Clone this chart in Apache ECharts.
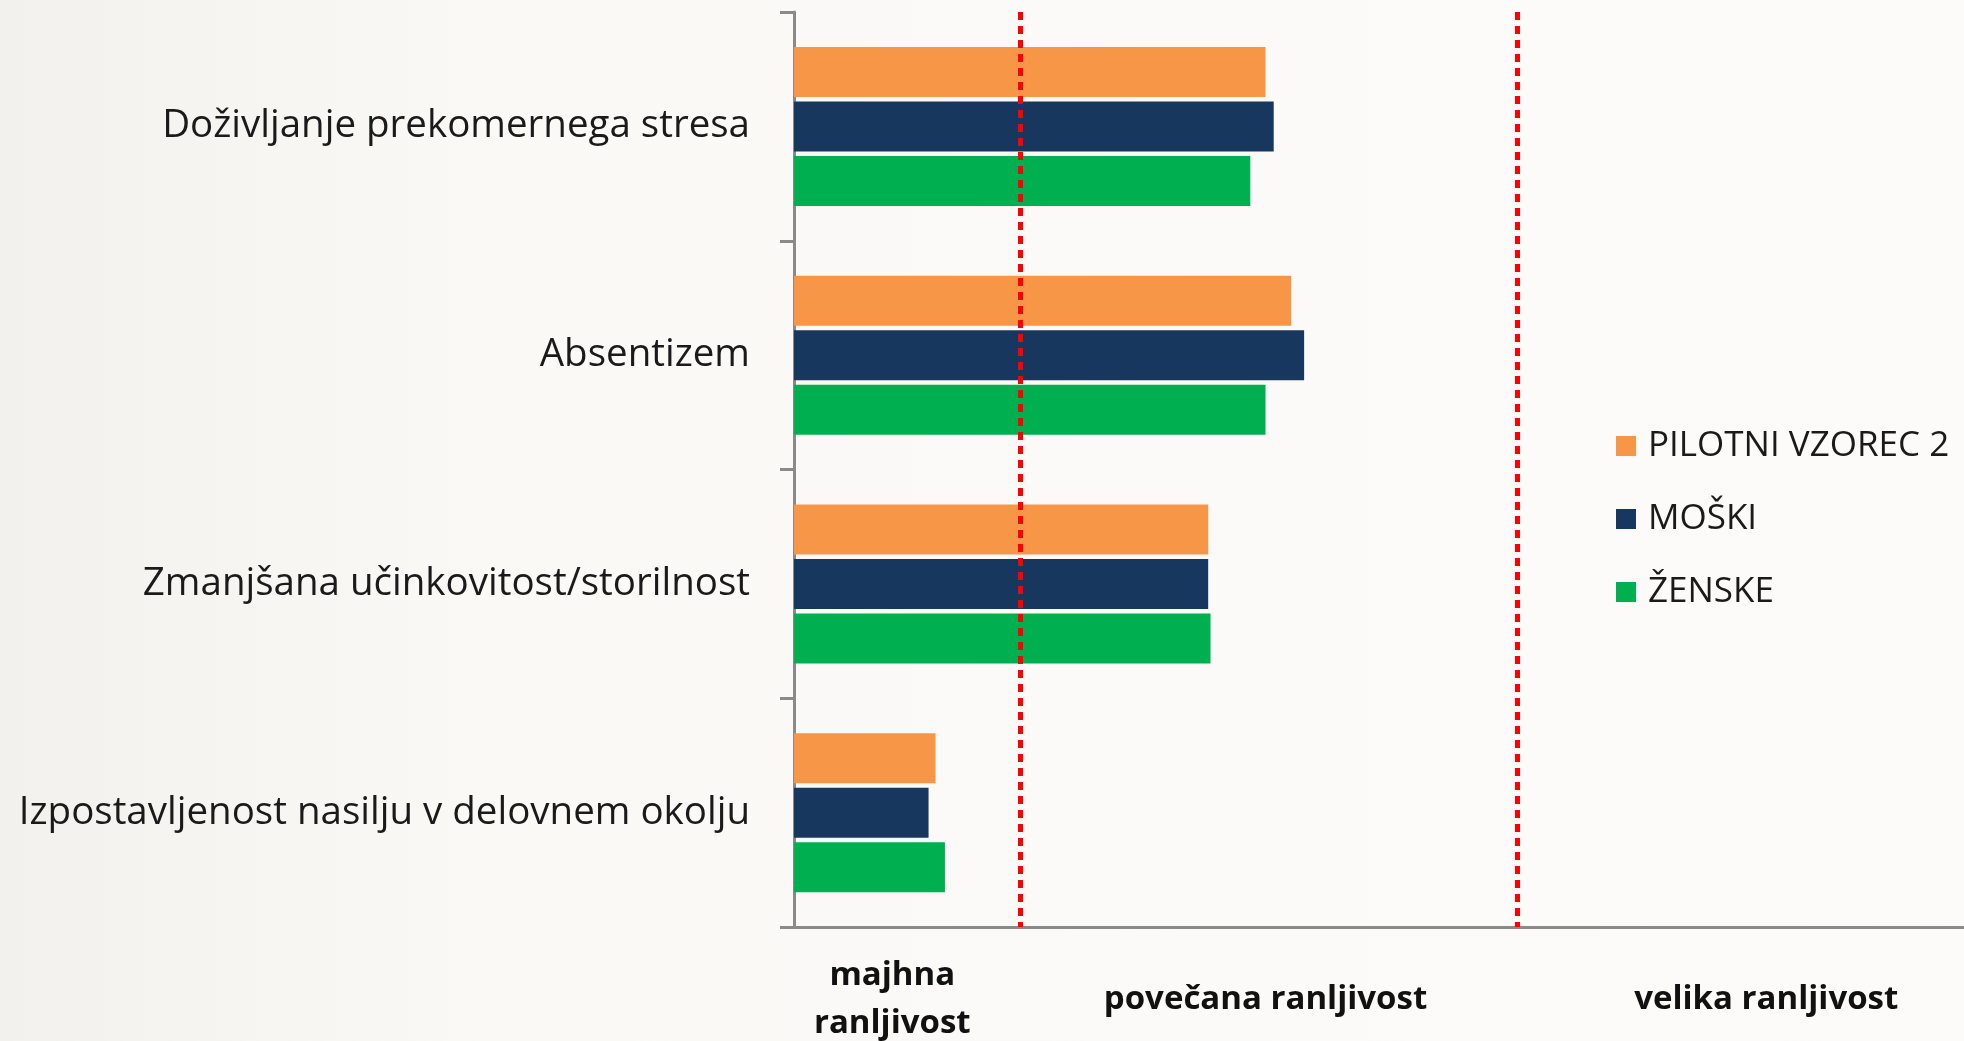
<!DOCTYPE html>
<html>
<head>
<meta charset="utf-8">
<script src="https://cdn.jsdelivr.net/npm/echarts@6/dist/echarts.min.js"></script>
<style>
    html, body { margin: 0; padding: 0; }
    #chart { width: 1964px; height: 1041px; }
</style>
</head>
<body>
<div id="chart"></div>
<script>
// kategorije (od zgoraj navzdol)
const categories = [
    'Doživljanje prekomernega stresa',
    'Absentizem',
    'Zmanjšana učinkovitost/storilnost',
    'Izpostavljenost nasilju v delovnem okolju'
];
const seriesNames = ['PILOTNI VZOREC 2', 'MOŠKI', 'ŽENSKE'];
// vrednosti na lestvici 0-100
const pilotni = [40.3, 42.5, 35.4, 12.1];
const moski = [41.0, 43.6, 35.4, 11.5];
const zenske = [39.0, 40.3, 35.6, 12.9];
// meje ranljivosti (rdeče črte)
const thresholds = [19.3, 61.8];
// oznake območij na osi x
const zoneLabels = ['majhna\nranljivost', 'povečana ranljivost', 'velika ranljivost'];
const zoneLabelAt = [8.4, 40.3, 83.1];

const colors = ['#f79646', '#17375e', '#00b050'];
const font = 'Open Sans';

const chart = echarts.init(document.getElementById('chart'));

const makeSeries = (name, data, i) => ({
    name: name,
    type: 'bar',
    data: data,
    barWidth: 50,
    barGap: '9%',
    itemStyle: { color: colors[i] },
    markLine: i === 0 ? {
        silent: true,
        symbol: 'none',
        label: { show: false },
        lineStyle: { color: '#ff0000', width: 5, type: [8, 6] },
        data: thresholds.map(t => ({ xAxis: t }))
    } : undefined,
    z: 2
});

const option = {
    backgroundColor: {
        type: 'linear', x: 0, y: 0, x2: 1, y2: 0,
        colorStops: [
            { offset: 0, color: '#f3f1ed' },
            { offset: 0.25, color: '#faf9f6' },
            { offset: 1, color: '#fcfbfa' }
        ]
    },
    animation: false,
    grid: {
        left: 794,
        right: 0,
        top: 12,
        bottom: 114,
        outerBoundsMode: 'none'
    },
    legend: {
        orient: 'vertical',
        left: 1611,
        top: 421,
        icon: 'rect',
        itemWidth: 20,
        itemHeight: 20,
        itemGap: 33,
        data: seriesNames,
        textStyle: {
            fontFamily: font,
            fontSize: 35,
            color: '#1a1a1a',
            lineHeight: 40,
            padding: [0, 0, 0, 7]
        }
    },
    xAxis: {
        type: 'value',
        min: 0,
        max: 100,
        splitLine: { show: false },
        axisTick: { show: false },
        axisLine: { show: true, lineStyle: { color: '#8a8a8a', width: 3 } },
        axisLabel: {
            customValues: zoneLabelAt,
            formatter: v => zoneLabels[zoneLabelAt.indexOf(v)] || '',
            fontFamily: font,
            fontSize: 33,
            fontWeight: 'bold',
            color: '#111',
            lineHeight: 48,
            verticalAlign: 'middle',
            margin: 73
        }
    },
    yAxis: {
        type: 'category',
        inverse: true,
        data: categories,
        axisLine: { show: true, lineStyle: { color: '#8a8a8a', width: 3 } },
        axisTick: { show: true, length: 14, lineStyle: { color: '#8a8a8a', width: 3 } },
        axisLabel: {
            fontFamily: font,
            fontSize: 38.5,
            color: '#1a1a1a',
            margin: 44,
            padding: [8, 0, 0, 0]
        }
    },
    series: [
        makeSeries(seriesNames[0], pilotni, 0),
        makeSeries(seriesNames[1], moski, 1),
        makeSeries(seriesNames[2], zenske, 2)
    ]
};

chart.setOption(option);
</script>
</body>
</html>
